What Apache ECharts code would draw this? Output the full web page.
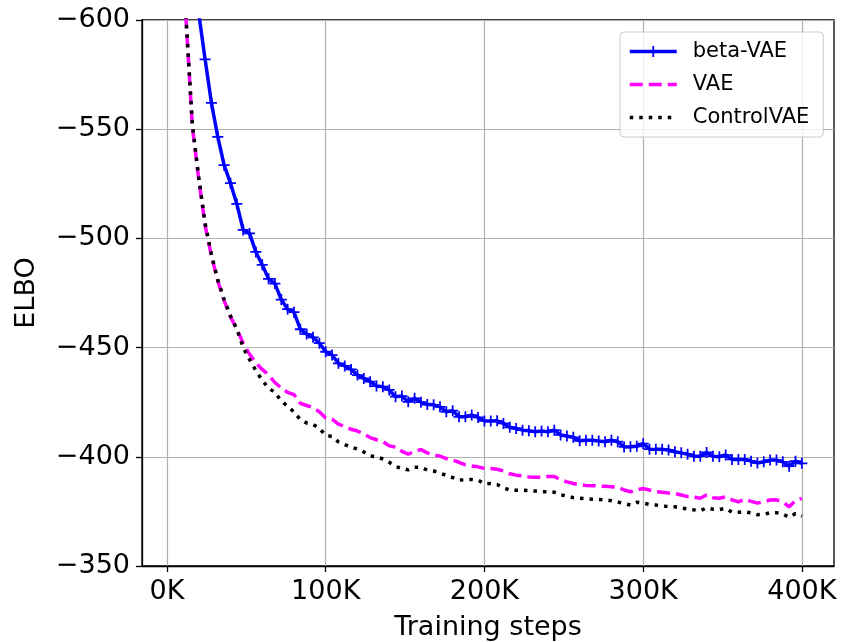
<!DOCTYPE html>
<html>
<head>
<meta charset="utf-8">
<script src="https://cdn.jsdelivr.net/npm/echarts@6/dist/echarts.min.js"></script>
<style>html,body{margin:0;padding:0;background:#fff}#c{width:844px;height:642px}</style>
</head>
<body>
<div id="c"></div>
<script>
// Training steps (in thousands)
const steps = [4,8,12,16,20,24,28,32,36,40,44,48,52,56,60,64,68,72,76,80,84,88,92,96,100,104,108,112,116,120,124,128,132,136,140,144,148,152,156,160,164,168,172,176,180,184,188,192,196,200,204,208,212,216,220,224,228,232,236,240,244,248,252,256,260,264,268,272,276,280,284,288,292,296,300,304,308,312,316,320,324,328,332,336,340,344,348,352,356,360,364,368,372,376,380,384,388,392,396,400];
const xTicks = [0, 100, 200, 300, 400];
const yTicks = [-600, -550, -500, -450, -400, -350];

const betaVAE = [-900,-780,-700,-645,-603,-582,-562,-546.5,-533.5,-525.3,
-515.8,-503.9,-502.3,-493.8,-487.9,-481.5,-479.3,-472,-467.6,-466.2,
-458.4,-456.2,-454.7,-452,-448.1,-446.6,-442.8,-441.6,-440,-437.4,
-435.9,-434.4,-432.4,-432.1,-430.6,-427.5,-427.8,-425.2,-426.8,-425,
-423.9,-423.8,-422.9,-420.6,-421.1,-418.3,-418.3,-419.1,-418,-416.4,
-416.4,-416.5,-415.3,-413.5,-413,-412.2,-411.9,-411.5,-411.8,-411.5,
-412.2,-410,-409.5,-408.9,-407.3,-407.6,-407.6,-407.2,-406.9,-407.6,
-406.9,-404.5,-404.6,-404.8,-406,-403.5,-403.4,-403.4,-403.1,-402.3,
-401.8,-401.2,-400.3,-400.3,-402,-400.3,-400,-400.8,-398.8,-398.8,
-398.8,-398,-397.2,-397.7,-398.5,-398.5,-397.7,-395.7,-398,-397];

const vae = [-950,-720,-600,-551,-527,-506,-492,-480.5,-471.5,-464,
-458.5,-452,-447,-443,-440,-437.5,-434,-431.5,-429.5,-428.5,
-424.5,-423.5,-422.5,-420.6,-417.8,-417.3,-415,-413.8,-412.6,-411.8,
-410.5,-408.8,-407.8,-407,-405,-404.5,-402.5,-401.2,-402.5,-403.3,
-401.8,-400.8,-400.3,-399.2,-398.5,-397.5,-396.3,-395.8,-395.4,-394.7,
-394.6,-394.3,-393.5,-392.2,-391.6,-391.3,-390.8,-390.6,-390.7,-391,
-391,-389.5,-388.5,-387.8,-387.2,-386.9,-386.8,-386.6,-386.5,-386.3,
-386,-384.8,-384,-384.8,-385.5,-384.8,-384,-383.8,-383.4,-383.2,
-382.5,-381.8,-381.5,-381,-382.5,-381.3,-381,-381.7,-380.3,-379.4,
-380.6,-379.6,-378.8,-379.4,-380.2,-380.3,-379.4,-377.1,-380,-381];

const controlVAE = [-950,-720,-601,-552,-528,-507,-492.5,-481,-472,-464.5,
-458.5,-450,-444.5,-439.5,-435,-431.5,-429.5,-425.5,-423.2,-420.5,
-417,-415.5,-414.8,-413,-409.8,-409.3,-406.8,-405.6,-404.5,-403.5,
-402.2,-400.4,-400,-399,-397.5,-395.5,-394.8,-394,-395.2,-395.2,
-393.9,-393.5,-392.5,-391.5,-390.5,-389.3,-389.5,-389.6,-389.3,-387.6,
-387.8,-387.3,-385.8,-384.7,-384.7,-384.7,-384.6,-384.3,-384,-384,
-383.8,-382.6,-382,-381.3,-381,-380.8,-380.6,-380.5,-380.3,-379.9,
-379.3,-378.6,-377.9,-379.2,-378.8,-378.2,-377.9,-377.5,-377.2,-377.1,
-376.6,-376.1,-375.7,-375.3,-376.6,-376,-375.8,-376.4,-374.6,-374.6,
-374.8,-374.4,-373.5,-373.6,-374.4,-374.4,-373.8,-372.3,-374,-372.8];

const zip = (xs, ys) => xs.map((x, i) => [x, ys[i]]);
const FONT = 'DejaVu Sans';
const plus = 'path://M0,4.2H10V5.8H0ZM4.2,0H5.8V10H4.2Z';

const chart = echarts.init(document.getElementById('c'), null, {renderer: 'canvas'});
chart.setOption({
  animation: false,
  backgroundColor: '#ffffff',
  textStyle: {fontFamily: FONT},
  grid: {left: 142, top: 20, right: 10, bottom: 76, containLabel: false, outerBoundsMode: 'none',
         show: true, borderColor: '#000', borderWidth: 1.3, backgroundColor: 'transparent'},
  legend: {
    orient: 'vertical', left: 620, top: 32,
    padding: [9, 14, 9, 8],
    itemWidth: 47, itemHeight: 14, itemGap: 12,
    backgroundColor: 'rgba(255,255,255,0.8)',
    borderColor: '#cccccc', borderWidth: 1, borderRadius: 4,
    lineStyle: {width: 3.5},
    textStyle: {fontFamily: FONT, fontSize: 21, color: '#000', padding: [0, 0, 0, 11]},
    data: [
      {name: 'beta-VAE'},
      {name: 'VAE', itemStyle: {color: 'rgba(0,0,0,0)', opacity: 0}},
      {name: 'ControlVAE', itemStyle: {color: 'rgba(0,0,0,0)', opacity: 0}}
    ]
  },
  xAxis: {
    type: 'value', min: -15.75, max: 420.25,
    name: 'Training steps', nameLocation: 'middle', nameGap: 48,
    nameTextStyle: {fontFamily: FONT, fontSize: 27, color: '#000'},
    axisLine: {show: true, onZero: false, lineStyle: {color: '#000', width: 1.3}},
    axisTick: {show: true, inside: false, length: 6, customValues: xTicks, lineStyle: {color: '#000', width: 1.3}},
    axisLabel: {customValues: xTicks, margin: 12, fontFamily: FONT, fontSize: 27, color: '#000', formatter: v => v + 'K'},
    splitLine: {show: true, lineStyle: {color: '#b0b0b0', width: 1.2}}
  },
  yAxis: {
    type: 'value', min: -600, max: -350, interval: 50, inverse: true,
    name: 'ELBO', nameLocation: 'middle', nameGap: 102, nameRotate: 90,
    nameTextStyle: {fontFamily: FONT, fontSize: 27, color: '#000'},
    axisLine: {show: true, onZero: false, lineStyle: {color: '#000', width: 1.3}},
    axisTick: {show: true, inside: false, length: 6, lineStyle: {color: '#000', width: 1.3}},
    axisLabel: {margin: 12, fontFamily: FONT, fontSize: 27, color: '#000', formatter: v => '\u2212' + Math.abs(v)},
    splitLine: {show: true, lineStyle: {color: '#b0b0b0', width: 1.2}}
  },
  series: [
    {
      name: 'beta-VAE', type: 'line', data: zip(steps, betaVAE), clip: true,
      symbol: plus, symbolSize: 11, showSymbol: true,
      lineStyle: {color: '#0000ff', width: 3.5},
      itemStyle: {color: '#0000ff'}
    },
    {
      name: 'VAE', type: 'line', data: zip(steps, vae), clip: true,
      symbol: 'none',
      lineStyle: {color: '#ff00ff', width: 3.5, type: [13, 6]},
      itemStyle: {color: '#ff00ff'}
    },
    {
      name: 'ControlVAE', type: 'line', data: zip(steps, controlVAE), clip: true,
      symbol: 'none',
      lineStyle: {color: '#000000', width: 3.5, type: [3.5, 6]},
      itemStyle: {color: '#000000'}
    }
  ]
});
</script>
</body>
</html>
